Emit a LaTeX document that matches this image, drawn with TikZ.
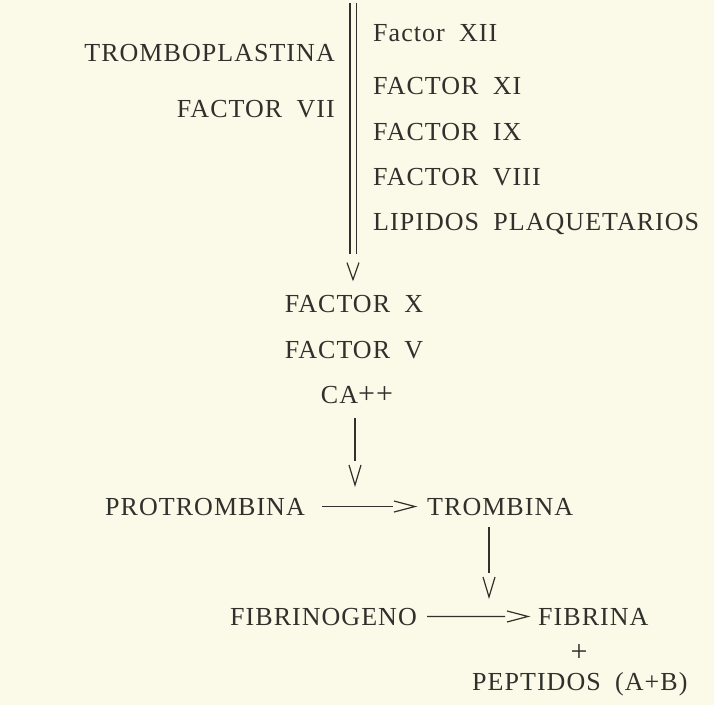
\documentclass[tikz,border=0pt]{standalone}
\usepackage{fontspec}
\setmainfont{Liberation Serif}[LetterSpace=4, WordSpace=1.9]
\usetikzlibrary{arrows.meta,positioning,decorations.markings}

\definecolor{paper}{RGB}{251,250,232}
\definecolor{ink}{RGB}{48,48,44}

\begin{document}
\begin{tikzpicture}[
    x=1bp, y=-1bp,
    lbl/.style  ={inner sep=0pt, text=ink,
                  font=\fontsize{26bp}{30bp}\selectfont},
    plusfont/.style={font=\fontsize{30bp}{30bp}\selectfont},
    shaft/.style={draw=ink, line width=1.6bp},
    bar/.style  ={draw=ink, double=paper, double distance=5bp,
                  line width=1.8bp},
    % head={gap before target}{length}{half width}
    head/.style n args={3}{postaction={decorate},
        decoration={markings, mark=at position -#1 with {
            \draw[draw=ink, line width=1.2bp, shorten >=0pt, shorten <=0pt]
                (-#2,-#3) -- (0bp,0bp) -- (-#2,#3);}}}
]
\fill[paper] (0,0) rectangle (714,705);
\useasboundingbox (0,0) rectangle (714,705);
% --- left of the bar ---------------------------------------------------
\node[lbl, anchor=base east] (trombo) at (335,62)  {TROMBOPLASTINA};
\node[lbl, anchor=base east] (f7)     at (335,118) {FACTOR VII};
% --- right of the bar --------------------------------------------------
\node[lbl, anchor=base west] (f12) at (373,42) {Factor XII};
\node[lbl, anchor=base west] (f11) at ([yshift=-52bp]f12.base west) {FACTOR XI};
\node[lbl, anchor=base west] (f9)  at ([yshift=-46bp]f11.base west) {FACTOR IX};
\node[lbl, anchor=base west] (f8)  at ([yshift=-45bp]f9.base west)  {FACTOR VIII};
\node[lbl, anchor=base west] (lip) at ([yshift=-45bp]f8.base west)  {LIPIDOS PLAQUETARIOS};
% --- the bar -----------------------------------------------------------
\coordinate (bartop) at (353,3);
\coordinate (barbot) at (353,254);
\draw[bar] (bartop) -- (barbot);
% --- middle column -----------------------------------------------------
\node[lbl, anchor=base] (fx) at (354,312) {FACTOR X};
\node[lbl, anchor=base] (fv) at ([yshift=-46bp]fx.base) {FACTOR V};
\node[lbl, anchor=base] (ca) at ([yshift=-45bp, xshift=3bp]fv.base)
    {CA{\fontsize{30bp}{30bp}\selectfont++}};
% --- reactions ---------------------------------------------------------
\node[lbl, anchor=base west] (prot) at (105,515) {PROTROMBINA};
\node[lbl, anchor=base west] (trom) at (427,515) {TROMBINA};
\node[lbl, anchor=base west] (fibg) at (230,625) {FIBRINOGENO};
\node[lbl, anchor=base west] (fib)  at (538,625) {FIBRINA};
\node[lbl, plusfont] (plus) at (579,653) {+};
\node[lbl, anchor=base west] (pep)  at (472,690) {PEPTIDOS (A+B)};
\coordinate (rx1) at (355,506);
\coordinate (rx2) at (489,616);
% --- arrows ------------------------------------------------------------
\path[head={15bp}{17bp}{6bp}] (barbot) -- (fx.north -| barbot);
\draw[shaft, shorten <=15bp, shorten >=45bp,
      head={21bp}{20bp}{6bp}] (ca.south -| rx1) -- (rx1);
\draw[shaft, line width=1.2bp, shorten <=17bp, shorten >=34bp,
      head={12bp}{21bp}{5.5bp}] (prot.east) -- (trom.west);
\draw[shaft, shorten <=12bp, shorten >=43bp,
      head={19bp}{20bp}{6bp}] (trom.south -| rx2) -- (rx2);
\draw[shaft, line width=1.2bp, shorten <=10bp, shorten >=33bp,
      head={10bp}{21bp}{5.5bp}] (fibg.east) -- (fib.west);
\end{tikzpicture}
\end{document}
